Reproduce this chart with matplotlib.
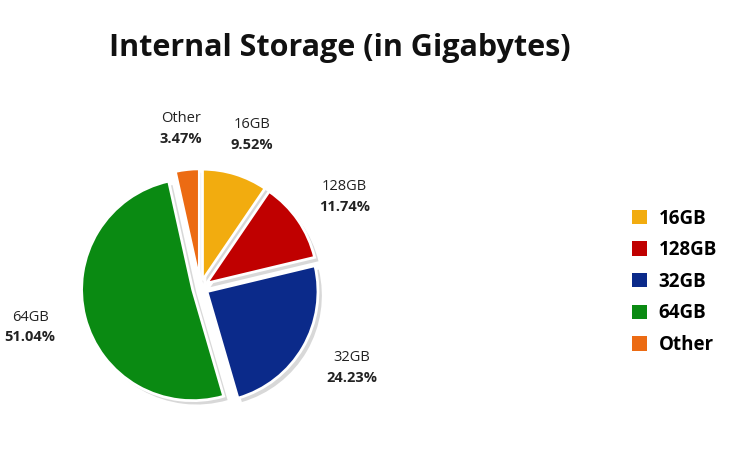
import numpy as np
import matplotlib.pyplot as plt
from matplotlib.patches import Patch

plt.rcParams['font.family'] = ['Open Sans', 'DejaVu Sans']

# Data
labels = ['16GB', '128GB', '32GB', '64GB', 'Other']
shares = [9.52, 11.74, 24.23, 51.04, 3.47]
colors = ['#f2ac0f', '#c00000', '#0b2a8a', '#0a8a12', '#ec6b13']

fig = plt.figure(figsize=(7.36, 4.53), dpi=100)
fig.text(0.462, 0.895, 'Internal Storage (in Gigabytes)', ha='center', va='center',
         fontsize=22, fontweight='bold', color='#111111')

ax = fig.add_axes([0.272 - 0.235, 0.365 - 0.38, 0.47, 0.76])
explode = [0.07] * len(shares)

# soft shadow underneath
ax.pie(shares, startangle=90, counterclock=False, explode=explode,
       colors=['#d8d8d8'] * len(shares), center=(0.035, -0.035),
       wedgeprops=dict(linewidth=0))
wedges, _ = ax.pie(shares, startangle=90, counterclock=False, explode=explode,
                   colors=colors, wedgeprops=dict(edgecolor='white', linewidth=2))

# outside labels: name on top, bold percentage below
for w, name, val in zip(wedges, labels, shares):
    ang = np.deg2rad((w.theta1 + w.theta2) / 2)
    x, y = 1.58 * np.cos(ang), 1.44 * np.sin(ang)
    ax.text(x, y + 0.09, name, ha='center', va='center', fontsize=10.5, color='#222222')
    ax.text(x, y - 0.09, f'{val:.2f}%', ha='center', va='center', fontsize=10.5,
            fontweight='bold', color='#222222')

ax.set_xlim(-1.55, 1.55)
ax.set_ylim(-1.55, 1.55)
ax.set_aspect('equal')
ax.axis('off')

handles = [Patch(facecolor=c, edgecolor='none') for c in colors]
leg = fig.legend(handles, labels, loc='center left', bbox_to_anchor=(0.836, 0.378),
                 frameon=False, prop={'weight': 'bold', 'size': 13.5},
                 handlelength=0.8, handleheight=0.8, labelspacing=0.62, handletextpad=0.6)

fig.savefig('out.png', dpi=100, facecolor='white')
